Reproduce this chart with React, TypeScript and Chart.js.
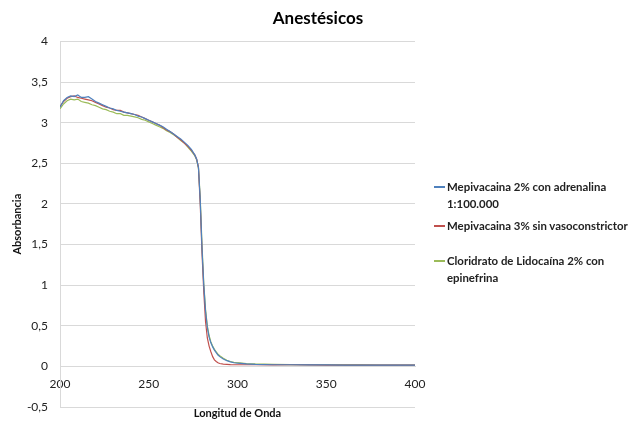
import React, { useEffect, useRef } from "react";
import { Chart, registerables } from "chart.js";

Chart.register(...registerables);

const wavelengths = [200,202,204,206,208,210,212,214,216,218,220,222,224,226,228,230,232,234,236,238,240,242,244,246,248,250,252,254,256,258,260,262,264,266,268,270,272,274,276,277,278,279,280,281,282,283,284,285,286,287,288,289,290,292,294,296,298,300,305,310,320,330,340,350,360,370,380,390,400];

const mepiAdrenalina = [3.19,3.27,3.31,3.33,3.32,3.34,3.31,3.31,3.32,3.29,3.26,3.24,3.22,3.20,3.18,3.17,3.15,3.14,3.13,3.12,3.11,3.10,3.08,3.07,3.05,3.03,3.01,2.99,2.97,2.95,2.92,2.89,2.86,2.83,2.80,2.76,2.72,2.67,2.60,2.55,2.45,2.05,1.45,1.00,0.68,0.48,0.36,0.29,0.24,0.20,0.17,0.14,0.12,0.09,0.07,0.055,0.045,0.04,0.03,0.025,0.02,0.02,0.018,0.018,0.016,0.016,0.015,0.015,0.015];

const mepiSinVaso = [3.20,3.26,3.30,3.32,3.33,3.31,3.30,3.29,3.28,3.27,3.25,3.23,3.21,3.19,3.18,3.16,3.15,3.15,3.13,3.12,3.11,3.10,3.09,3.07,3.05,3.03,3.01,2.99,2.97,2.94,2.91,2.89,2.86,2.82,2.79,2.75,2.71,2.66,2.60,2.55,2.45,2.00,1.40,0.92,0.55,0.35,0.25,0.18,0.12,0.08,0.06,0.045,0.035,0.028,0.025,0.022,0.02,0.02,0.02,0.02,0.018,0.02,0.018,0.016,0.016,0.015,0.015,0.015,0.015];

const lidocaina = [3.17,3.23,3.27,3.29,3.28,3.29,3.26,3.25,3.24,3.22,3.21,3.19,3.17,3.16,3.14,3.13,3.11,3.11,3.09,3.09,3.08,3.07,3.06,3.04,3.03,3.01,2.99,2.97,2.95,2.93,2.90,2.88,2.85,2.82,2.78,2.75,2.70,2.65,2.59,2.54,2.44,2.08,1.50,1.02,0.70,0.50,0.38,0.30,0.25,0.21,0.18,0.15,0.13,0.10,0.075,0.06,0.05,0.045,0.035,0.03,0.025,0.022,0.02,0.02,0.018,0.018,0.017,0.017,0.016];

const seriesNames = [
  ["Mepivacaina 2% con adrenalina", "1:100.000"],
  ["Mepivacaina 3% sin vasoconstrictor"],
  ["Cloridrato de Lidocaína 2% con", "epinefrina"],
];
const seriesColors = ["#4F81BD", "#C0504D", "#9BBB59"];
const seriesValues = [mepiAdrenalina, mepiSinVaso, lidocaina];

const FONT = "Lato, 'Open Sans', sans-serif";

export default function App() {
  const ref = useRef<HTMLCanvasElement | null>(null);

  useEffect(() => {
    if (!ref.current) return;
    const chart = new Chart(ref.current, {
      type: "line",
      data: {
        datasets: seriesValues.map((vals, i) => ({
          label: seriesNames[i].join(" "),
          data: wavelengths.map((w, j) => ({ x: w, y: vals[j] })),
          borderColor: seriesColors[i],
          backgroundColor: seriesColors[i],
          borderWidth: 1.2,
          pointRadius: 0,
          tension: 0,
          xAxisID: "x",
          yAxisID: "y",
        })),
      },
      options: {
        animation: false,
        responsive: false,
        layout: { padding: 0 },
        plugins: {
          legend: { display: false },
          tooltip: { enabled: false },
          title: {
            display: true,
            text: "Anestésicos",
            color: "#000",
            font: { family: FONT, size: 17, weight: "bold" },
            padding: { top: 8, bottom: 13 },
          },
        },
        scales: {
          x: {
            type: "linear",
            position: { y: 0 } as any,
            min: 200,
            max: 400,
            ticks: {
              stepSize: 50,
              color: "#222",
              font: { family: FONT, size: 12 },
              padding: 11,
              maxRotation: 0,
            },
            grid: { display: false, drawTicks: false },
            border: { display: true, color: "#d9d9d9", width: 1 },
          },
          x2: {
            type: "linear",
            position: "bottom",
            min: 200,
            max: 400,
            ticks: { display: false },
            grid: { display: false, drawTicks: false },
            border: { display: false },
            title: {
              display: true,
              text: "Longitud de Onda",
              color: "#111",
              font: { family: FONT, size: 11, weight: "bold" },
              padding: { top: 0, bottom: 1 },
            },
            afterFit: (s: any) => {
              s.height = 14;
            },
          },
          y: {
            type: "linear",
            position: "left",
            min: -0.5,
            max: 4,
            ticks: {
              stepSize: 0.5,
              color: "#222",
              font: { family: FONT, size: 12 },
              padding: 3,
              callback: (v: any) => String(v).replace(".", ","),
            },
            grid: { color: "#d9d9d9", drawTicks: true, tickLength: 9, tickColor: "rgba(0,0,0,0)" },
            border: { display: true, color: "#d9d9d9" },
            title: {
              display: true,
              text: "Absorbancia",
              color: "#111",
              font: { family: FONT, size: 11, weight: "bold" },
              padding: { top: 11, bottom: 4 },
            },
            afterFit: (s: any) => {
              s.width = 60;
            },
          },
          y2: {
            type: "linear",
            position: "right",
            min: -0.5,
            max: 4,
            ticks: { display: false },
            grid: { display: false, drawTicks: false },
            border: { display: false },
            afterFit: (s: any) => {
              s.width = 221;
            },
          },
        },
      },
    });
    return () => chart.destroy();
  }, []);

  return (
    <div style={{ position: "fixed", left: 0, top: 0, width: 636, height: 421, background: "#fff" }}>
      <canvas ref={ref} width={636} height={421} style={{ width: 636, height: 421, display: "block" }} />
      <div style={{ position: "absolute", left: 434, top: 178, fontFamily: FONT, fontWeight: "bold", fontSize: 11.4, color: "#222", lineHeight: "17px" }}>
        {seriesNames.map((lines, i) => (
          <div key={i} style={{ display: "flex", alignItems: "flex-start", height: i === 0 ? 39 : 35 }}>
            <span style={{ display: "inline-block", width: 11, height: 2, background: seriesColors[i], marginTop: 8, marginRight: 2 }} />
            <div>
              {lines.map((t, k) => (
                <div key={k}>{t}</div>
              ))}
            </div>
          </div>
        ))}
      </div>
    </div>
  );
}
